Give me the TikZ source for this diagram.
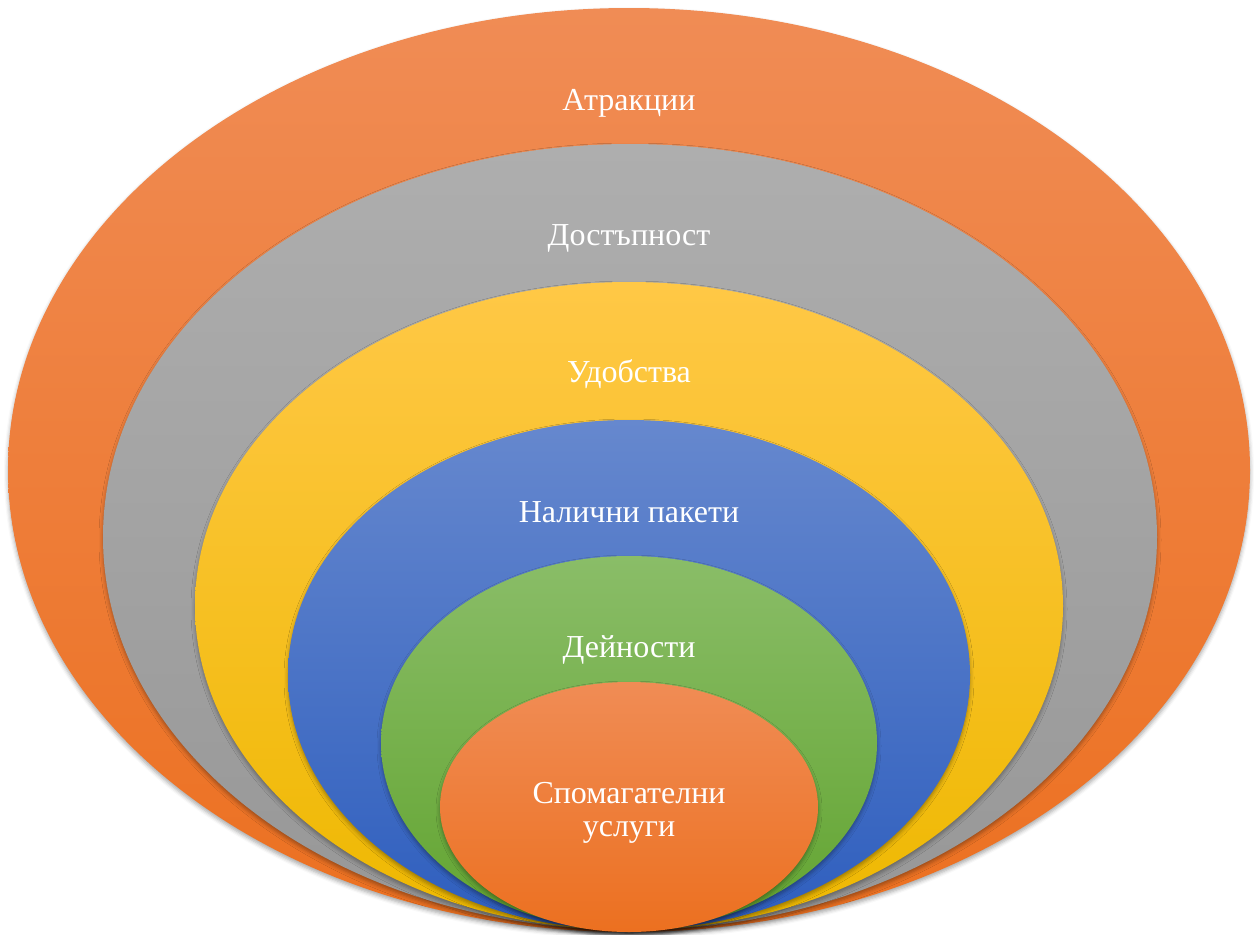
\documentclass[tikz,border=0pt]{standalone}
\usepackage{fontspec}
\setmainfont{Liberation Serif}
\usetikzlibrary{shapes.geometric,shadows.blur}
\definecolor{orT}{HTML}{F08C55}
\definecolor{orB}{HTML}{EC7020}
\definecolor{grT}{HTML}{AEAEAE}
\definecolor{grB}{HTML}{979797}
\definecolor{yeT}{HTML}{FFC846}
\definecolor{yeB}{HTML}{EEB800}
\definecolor{blT}{HTML}{6688CE}
\definecolor{blB}{HTML}{2E5EBE}
\definecolor{gnT}{HTML}{8ABD68}
\definecolor{gnB}{HTML}{62A430}
\tikzset{
  layer/.style={ellipse, inner sep=0pt, draw=none,
    blur shadow={shadow xshift=0pt, shadow yshift=-3pt, shadow blur radius=4pt, shadow opacity=35}},
  lbl/.style={text=white, font=\fontsize{32}{33}\selectfont, align=center}
}
\begin{document}
\begin{tikzpicture}[x=1pt,y=-1pt]
\useasboundingbox (0,0) rectangle (1254,935);
\node (e1) [layer, minimum width=1242pt, minimum height=924pt, top color=orT, bottom color=orB] at (629,470) {};
\node (e2) [layer, minimum width=1054pt, minimum height=786pt, top color=grT, bottom color=grB] at (630,537) {};
\node (e3) [layer, minimum width=868pt, minimum height=648pt, top color=yeT, bottom color=yeB] at (629,606) {};
\node (e4) [layer, minimum width=682pt, minimum height=510pt, top color=blT, bottom color=blB] at (629,675) {};
\node (e5) [layer, minimum width=496pt, minimum height=374pt, top color=gnT, bottom color=gnB] at (629,743) {};
\node (e6) [layer, minimum width=378pt, minimum height=250pt, top color=orT, bottom color=orB] at (629,807) {};
\node (t1) [lbl] at (629,103) {Атракции};
\node (t2) [lbl] at (629,238) {Достъпност};
\node (t3) [lbl] at (629,374) {Удобства};
\node (t4) [lbl] at (629,512) {Налични пакети};
\node (t5) [lbl] at (629,650) {Дейности};
\node (t6) [lbl] at (629,813) {Спомагателни\\услуги};
\end{tikzpicture}
\end{document}
